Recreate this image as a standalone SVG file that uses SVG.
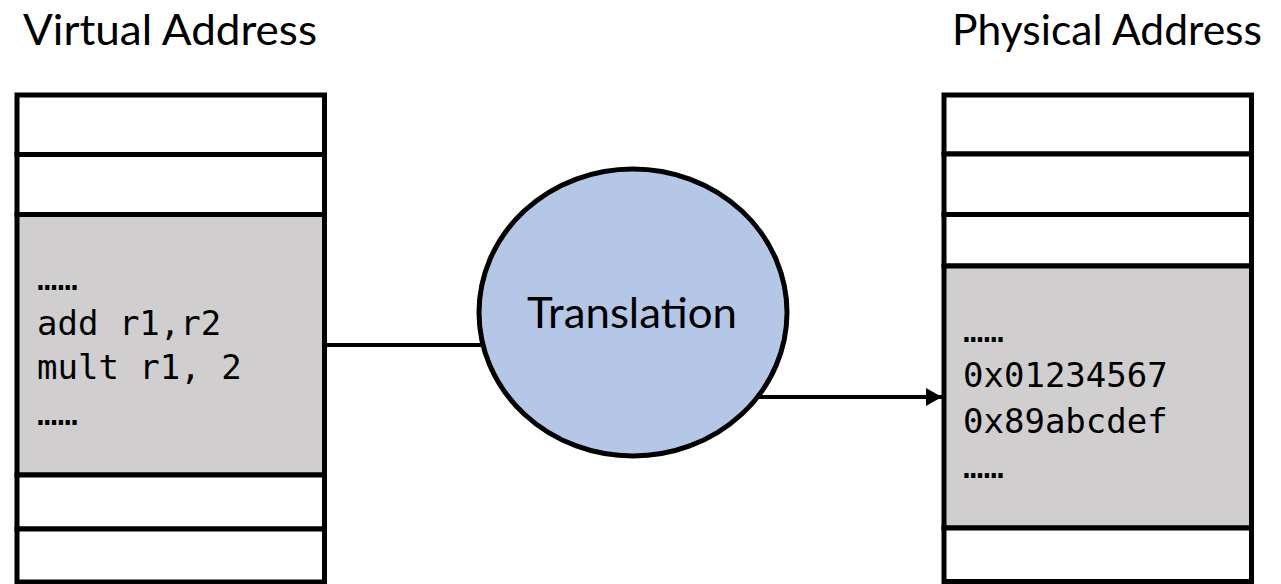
<svg xmlns="http://www.w3.org/2000/svg" width="1281" height="584" viewBox="0 0 1281 584">
  <style>
    .cell { fill: #FFFFFF; stroke: #000000; stroke-width: 5; }
    .gray { fill: #D0CECE; }
    .title { font-family: Lato, "Open Sans", "Liberation Sans", sans-serif; font-size: 42px; fill: #000000; }
    .code { font-family: "DejaVu Sans Mono", "Liberation Mono", monospace; font-size: 34px; fill: #000000; }
    .conn { stroke: #000000; stroke-width: 4; fill: none; }
  </style>
  <defs>
    <marker id="arrow" markerUnits="userSpaceOnUse" markerWidth="16" markerHeight="18" refX="16" refY="9" orient="auto">
      <path d="M0,0 L16,9 L0,18 Z" fill="#000000"/>
    </marker>
  </defs>
  <rect width="1281" height="584" fill="#FFFFFF"/>

  <text class="title" x="23" y="45" textLength="294" lengthAdjust="spacingAndGlyphs">Virtual Address</text>
  <text class="title" x="952" y="45" textLength="310" lengthAdjust="spacingAndGlyphs">Physical Address</text>

  <g id="connectors">
    <line class="conn" x1="327" y1="345" x2="484" y2="345"/>
    <line class="conn" x1="745" y1="397" x2="942" y2="397" marker-end="url(#arrow)"/>
  </g>

  <g id="virtual-memory">
    <rect class="cell" x="17" y="95" width="307.5" height="59.5"/>
    <rect class="cell" x="17" y="154.5" width="307.5" height="60"/>
    <rect class="cell gray" x="17" y="214.5" width="307.5" height="260.5"/>
    <rect class="cell" x="17" y="475" width="307.5" height="54"/>
    <rect class="cell" x="17" y="529" width="307.5" height="53"/>
    <text class="code" x="37" y="290">……</text>
    <text class="code" x="37" y="335">add r1,r2</text>
    <text class="code" x="37" y="379">mult r1, 2</text>
    <text class="code" x="37" y="425">……</text>
  </g>

  <g id="translation">
    <ellipse cx="633" cy="312.5" rx="154" ry="143.5" fill="#B4C7E7" stroke="#000000" stroke-width="5"/>
    <text class="title" x="527" y="328" textLength="210" lengthAdjust="spacingAndGlyphs">Translation</text>
  </g>

  <g id="physical-memory">
    <rect class="cell" x="944" y="95" width="307.5" height="59"/>
    <rect class="cell" x="944" y="154" width="307.5" height="60.5"/>
    <rect class="cell" x="944" y="214.5" width="307.5" height="51.5"/>
    <rect class="cell gray" x="944" y="266" width="307.5" height="262"/>
    <rect class="cell" x="944" y="528" width="307.5" height="53.5"/>
    <text class="code" x="963" y="342">……</text>
    <text class="code" x="963" y="387">0x01234567</text>
    <text class="code" x="963" y="433">0x89abcdef</text>
    <text class="code" x="963" y="478">……</text>
  </g>
</svg>
